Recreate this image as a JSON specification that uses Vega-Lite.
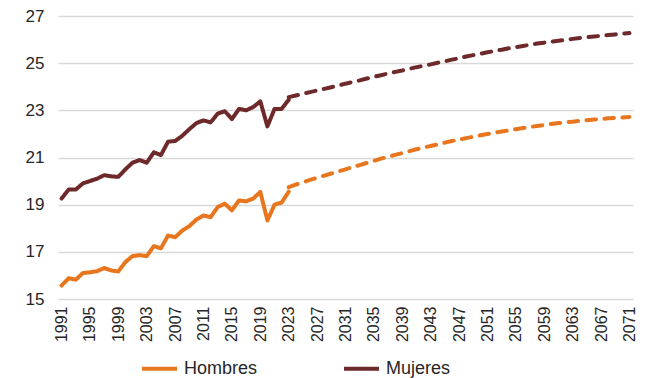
{
  "$schema": "https://vega.github.io/schema/vega-lite/v6.json",
  "width": 575,
  "height": 283,
  "autosize": {"type": "none"},
  "padding": {"left": 58, "top": 16, "right": 23, "bottom": 79},
  "background": "white",
  "config": {
    "view": {"stroke": null},
    "font": "Liberation Sans",
    "axis": {"labelFont": "Liberation Sans", "labelColor": "#262626"},
    "legend": {"labelFont": "Liberation Sans", "labelColor": "#262626"}
  },
  "data": {
    "values": [
      {"anio": 1991, "edad": 15.57, "sexo": "Hombres", "tipo": "Observado"},
      {"anio": 1992, "edad": 15.88, "sexo": "Hombres", "tipo": "Observado"},
      {"anio": 1993, "edad": 15.82, "sexo": "Hombres", "tipo": "Observado"},
      {"anio": 1994, "edad": 16.10, "sexo": "Hombres", "tipo": "Observado"},
      {"anio": 1995, "edad": 16.13, "sexo": "Hombres", "tipo": "Observado"},
      {"anio": 1996, "edad": 16.18, "sexo": "Hombres", "tipo": "Observado"},
      {"anio": 1997, "edad": 16.31, "sexo": "Hombres", "tipo": "Observado"},
      {"anio": 1998, "edad": 16.21, "sexo": "Hombres", "tipo": "Observado"},
      {"anio": 1999, "edad": 16.17, "sexo": "Hombres", "tipo": "Observado"},
      {"anio": 2000, "edad": 16.57, "sexo": "Hombres", "tipo": "Observado"},
      {"anio": 2001, "edad": 16.82, "sexo": "Hombres", "tipo": "Observado"},
      {"anio": 2002, "edad": 16.86, "sexo": "Hombres", "tipo": "Observado"},
      {"anio": 2003, "edad": 16.82, "sexo": "Hombres", "tipo": "Observado"},
      {"anio": 2004, "edad": 17.24, "sexo": "Hombres", "tipo": "Observado"},
      {"anio": 2005, "edad": 17.15, "sexo": "Hombres", "tipo": "Observado"},
      {"anio": 2006, "edad": 17.69, "sexo": "Hombres", "tipo": "Observado"},
      {"anio": 2007, "edad": 17.62, "sexo": "Hombres", "tipo": "Observado"},
      {"anio": 2008, "edad": 17.90, "sexo": "Hombres", "tipo": "Observado"},
      {"anio": 2009, "edad": 18.09, "sexo": "Hombres", "tipo": "Observado"},
      {"anio": 2010, "edad": 18.37, "sexo": "Hombres", "tipo": "Observado"},
      {"anio": 2011, "edad": 18.54, "sexo": "Hombres", "tipo": "Observado"},
      {"anio": 2012, "edad": 18.47, "sexo": "Hombres", "tipo": "Observado"},
      {"anio": 2013, "edad": 18.90, "sexo": "Hombres", "tipo": "Observado"},
      {"anio": 2014, "edad": 19.04, "sexo": "Hombres", "tipo": "Observado"},
      {"anio": 2015, "edad": 18.76, "sexo": "Hombres", "tipo": "Observado"},
      {"anio": 2016, "edad": 19.18, "sexo": "Hombres", "tipo": "Observado"},
      {"anio": 2017, "edad": 19.14, "sexo": "Hombres", "tipo": "Observado"},
      {"anio": 2018, "edad": 19.26, "sexo": "Hombres", "tipo": "Observado"},
      {"anio": 2019, "edad": 19.54, "sexo": "Hombres", "tipo": "Observado"},
      {"anio": 2020, "edad": 18.33, "sexo": "Hombres", "tipo": "Observado"},
      {"anio": 2021, "edad": 19.00, "sexo": "Hombres", "tipo": "Observado"},
      {"anio": 2022, "edad": 19.09, "sexo": "Hombres", "tipo": "Observado"},
      {"anio": 2023, "edad": 19.55, "sexo": "Hombres", "tipo": "Observado"},
      {"anio": 2023, "edad": 19.74, "sexo": "Hombres", "tipo": "Proyección"},
      {"anio": 2024, "edad": 19.85, "sexo": "Hombres", "tipo": "Proyección"},
      {"anio": 2025, "edad": 19.95, "sexo": "Hombres", "tipo": "Proyección"},
      {"anio": 2026, "edad": 20.05, "sexo": "Hombres", "tipo": "Proyección"},
      {"anio": 2027, "edad": 20.14, "sexo": "Hombres", "tipo": "Proyección"},
      {"anio": 2028, "edad": 20.23, "sexo": "Hombres", "tipo": "Proyección"},
      {"anio": 2029, "edad": 20.32, "sexo": "Hombres", "tipo": "Proyección"},
      {"anio": 2030, "edad": 20.41, "sexo": "Hombres", "tipo": "Proyección"},
      {"anio": 2031, "edad": 20.50, "sexo": "Hombres", "tipo": "Proyección"},
      {"anio": 2032, "edad": 20.59, "sexo": "Hombres", "tipo": "Proyección"},
      {"anio": 2033, "edad": 20.68, "sexo": "Hombres", "tipo": "Proyección"},
      {"anio": 2034, "edad": 20.77, "sexo": "Hombres", "tipo": "Proyección"},
      {"anio": 2035, "edad": 20.86, "sexo": "Hombres", "tipo": "Proyección"},
      {"anio": 2036, "edad": 20.95, "sexo": "Hombres", "tipo": "Proyección"},
      {"anio": 2037, "edad": 21.03, "sexo": "Hombres", "tipo": "Proyección"},
      {"anio": 2038, "edad": 21.11, "sexo": "Hombres", "tipo": "Proyección"},
      {"anio": 2039, "edad": 21.19, "sexo": "Hombres", "tipo": "Proyección"},
      {"anio": 2040, "edad": 21.27, "sexo": "Hombres", "tipo": "Proyección"},
      {"anio": 2041, "edad": 21.35, "sexo": "Hombres", "tipo": "Proyección"},
      {"anio": 2042, "edad": 21.42, "sexo": "Hombres", "tipo": "Proyección"},
      {"anio": 2043, "edad": 21.49, "sexo": "Hombres", "tipo": "Proyección"},
      {"anio": 2044, "edad": 21.56, "sexo": "Hombres", "tipo": "Proyección"},
      {"anio": 2045, "edad": 21.63, "sexo": "Hombres", "tipo": "Proyección"},
      {"anio": 2046, "edad": 21.70, "sexo": "Hombres", "tipo": "Proyección"},
      {"anio": 2047, "edad": 21.76, "sexo": "Hombres", "tipo": "Proyección"},
      {"anio": 2048, "edad": 21.82, "sexo": "Hombres", "tipo": "Proyección"},
      {"anio": 2049, "edad": 21.88, "sexo": "Hombres", "tipo": "Proyección"},
      {"anio": 2050, "edad": 21.94, "sexo": "Hombres", "tipo": "Proyección"},
      {"anio": 2051, "edad": 22.00, "sexo": "Hombres", "tipo": "Proyección"},
      {"anio": 2052, "edad": 22.05, "sexo": "Hombres", "tipo": "Proyección"},
      {"anio": 2053, "edad": 22.10, "sexo": "Hombres", "tipo": "Proyección"},
      {"anio": 2054, "edad": 22.15, "sexo": "Hombres", "tipo": "Proyección"},
      {"anio": 2055, "edad": 22.20, "sexo": "Hombres", "tipo": "Proyección"},
      {"anio": 2056, "edad": 22.25, "sexo": "Hombres", "tipo": "Proyección"},
      {"anio": 2057, "edad": 22.29, "sexo": "Hombres", "tipo": "Proyección"},
      {"anio": 2058, "edad": 22.34, "sexo": "Hombres", "tipo": "Proyección"},
      {"anio": 2059, "edad": 22.38, "sexo": "Hombres", "tipo": "Proyección"},
      {"anio": 2060, "edad": 22.42, "sexo": "Hombres", "tipo": "Proyección"},
      {"anio": 2061, "edad": 22.46, "sexo": "Hombres", "tipo": "Proyección"},
      {"anio": 2062, "edad": 22.49, "sexo": "Hombres", "tipo": "Proyección"},
      {"anio": 2063, "edad": 22.52, "sexo": "Hombres", "tipo": "Proyección"},
      {"anio": 2064, "edad": 22.55, "sexo": "Hombres", "tipo": "Proyección"},
      {"anio": 2065, "edad": 22.58, "sexo": "Hombres", "tipo": "Proyección"},
      {"anio": 2066, "edad": 22.61, "sexo": "Hombres", "tipo": "Proyección"},
      {"anio": 2067, "edad": 22.63, "sexo": "Hombres", "tipo": "Proyección"},
      {"anio": 2068, "edad": 22.66, "sexo": "Hombres", "tipo": "Proyección"},
      {"anio": 2069, "edad": 22.68, "sexo": "Hombres", "tipo": "Proyección"},
      {"anio": 2070, "edad": 22.70, "sexo": "Hombres", "tipo": "Proyección"},
      {"anio": 2071, "edad": 22.72, "sexo": "Hombres", "tipo": "Proyección"},
      {"anio": 1991, "edad": 19.26, "sexo": "Mujeres", "tipo": "Observado"},
      {"anio": 1992, "edad": 19.64, "sexo": "Mujeres", "tipo": "Observado"},
      {"anio": 1993, "edad": 19.64, "sexo": "Mujeres", "tipo": "Observado"},
      {"anio": 1994, "edad": 19.90, "sexo": "Mujeres", "tipo": "Observado"},
      {"anio": 1995, "edad": 20.00, "sexo": "Mujeres", "tipo": "Observado"},
      {"anio": 1996, "edad": 20.10, "sexo": "Mujeres", "tipo": "Observado"},
      {"anio": 1997, "edad": 20.25, "sexo": "Mujeres", "tipo": "Observado"},
      {"anio": 1998, "edad": 20.20, "sexo": "Mujeres", "tipo": "Observado"},
      {"anio": 1999, "edad": 20.18, "sexo": "Mujeres", "tipo": "Observado"},
      {"anio": 2000, "edad": 20.50, "sexo": "Mujeres", "tipo": "Observado"},
      {"anio": 2001, "edad": 20.78, "sexo": "Mujeres", "tipo": "Observado"},
      {"anio": 2002, "edad": 20.89, "sexo": "Mujeres", "tipo": "Observado"},
      {"anio": 2003, "edad": 20.78, "sexo": "Mujeres", "tipo": "Observado"},
      {"anio": 2004, "edad": 21.22, "sexo": "Mujeres", "tipo": "Observado"},
      {"anio": 2005, "edad": 21.10, "sexo": "Mujeres", "tipo": "Observado"},
      {"anio": 2006, "edad": 21.67, "sexo": "Mujeres", "tipo": "Observado"},
      {"anio": 2007, "edad": 21.70, "sexo": "Mujeres", "tipo": "Observado"},
      {"anio": 2008, "edad": 21.92, "sexo": "Mujeres", "tipo": "Observado"},
      {"anio": 2009, "edad": 22.20, "sexo": "Mujeres", "tipo": "Observado"},
      {"anio": 2010, "edad": 22.46, "sexo": "Mujeres", "tipo": "Observado"},
      {"anio": 2011, "edad": 22.57, "sexo": "Mujeres", "tipo": "Observado"},
      {"anio": 2012, "edad": 22.49, "sexo": "Mujeres", "tipo": "Observado"},
      {"anio": 2013, "edad": 22.86, "sexo": "Mujeres", "tipo": "Observado"},
      {"anio": 2014, "edad": 22.96, "sexo": "Mujeres", "tipo": "Observado"},
      {"anio": 2015, "edad": 22.63, "sexo": "Mujeres", "tipo": "Observado"},
      {"anio": 2016, "edad": 23.06, "sexo": "Mujeres", "tipo": "Observado"},
      {"anio": 2017, "edad": 23.00, "sexo": "Mujeres", "tipo": "Observado"},
      {"anio": 2018, "edad": 23.14, "sexo": "Mujeres", "tipo": "Observado"},
      {"anio": 2019, "edad": 23.38, "sexo": "Mujeres", "tipo": "Observado"},
      {"anio": 2020, "edad": 22.32, "sexo": "Mujeres", "tipo": "Observado"},
      {"anio": 2021, "edad": 23.06, "sexo": "Mujeres", "tipo": "Observado"},
      {"anio": 2022, "edad": 23.06, "sexo": "Mujeres", "tipo": "Observado"},
      {"anio": 2023, "edad": 23.45, "sexo": "Mujeres", "tipo": "Observado"},
      {"anio": 2023, "edad": 23.56, "sexo": "Mujeres", "tipo": "Proyección"},
      {"anio": 2024, "edad": 23.63, "sexo": "Mujeres", "tipo": "Proyección"},
      {"anio": 2025, "edad": 23.70, "sexo": "Mujeres", "tipo": "Proyección"},
      {"anio": 2026, "edad": 23.77, "sexo": "Mujeres", "tipo": "Proyección"},
      {"anio": 2027, "edad": 23.84, "sexo": "Mujeres", "tipo": "Proyección"},
      {"anio": 2028, "edad": 23.91, "sexo": "Mujeres", "tipo": "Proyección"},
      {"anio": 2029, "edad": 23.98, "sexo": "Mujeres", "tipo": "Proyección"},
      {"anio": 2030, "edad": 24.05, "sexo": "Mujeres", "tipo": "Proyección"},
      {"anio": 2031, "edad": 24.13, "sexo": "Mujeres", "tipo": "Proyección"},
      {"anio": 2032, "edad": 24.20, "sexo": "Mujeres", "tipo": "Proyección"},
      {"anio": 2033, "edad": 24.27, "sexo": "Mujeres", "tipo": "Proyección"},
      {"anio": 2034, "edad": 24.35, "sexo": "Mujeres", "tipo": "Proyección"},
      {"anio": 2035, "edad": 24.42, "sexo": "Mujeres", "tipo": "Proyección"},
      {"anio": 2036, "edad": 24.49, "sexo": "Mujeres", "tipo": "Proyección"},
      {"anio": 2037, "edad": 24.56, "sexo": "Mujeres", "tipo": "Proyección"},
      {"anio": 2038, "edad": 24.63, "sexo": "Mujeres", "tipo": "Proyección"},
      {"anio": 2039, "edad": 24.69, "sexo": "Mujeres", "tipo": "Proyección"},
      {"anio": 2040, "edad": 24.76, "sexo": "Mujeres", "tipo": "Proyección"},
      {"anio": 2041, "edad": 24.83, "sexo": "Mujeres", "tipo": "Proyección"},
      {"anio": 2042, "edad": 24.89, "sexo": "Mujeres", "tipo": "Proyección"},
      {"anio": 2043, "edad": 24.95, "sexo": "Mujeres", "tipo": "Proyección"},
      {"anio": 2044, "edad": 25.02, "sexo": "Mujeres", "tipo": "Proyección"},
      {"anio": 2045, "edad": 25.08, "sexo": "Mujeres", "tipo": "Proyección"},
      {"anio": 2046, "edad": 25.15, "sexo": "Mujeres", "tipo": "Proyección"},
      {"anio": 2047, "edad": 25.21, "sexo": "Mujeres", "tipo": "Proyección"},
      {"anio": 2048, "edad": 25.28, "sexo": "Mujeres", "tipo": "Proyección"},
      {"anio": 2049, "edad": 25.34, "sexo": "Mujeres", "tipo": "Proyección"},
      {"anio": 2050, "edad": 25.40, "sexo": "Mujeres", "tipo": "Proyección"},
      {"anio": 2051, "edad": 25.46, "sexo": "Mujeres", "tipo": "Proyección"},
      {"anio": 2052, "edad": 25.52, "sexo": "Mujeres", "tipo": "Proyección"},
      {"anio": 2053, "edad": 25.57, "sexo": "Mujeres", "tipo": "Proyección"},
      {"anio": 2054, "edad": 25.63, "sexo": "Mujeres", "tipo": "Proyección"},
      {"anio": 2055, "edad": 25.68, "sexo": "Mujeres", "tipo": "Proyección"},
      {"anio": 2056, "edad": 25.73, "sexo": "Mujeres", "tipo": "Proyección"},
      {"anio": 2057, "edad": 25.78, "sexo": "Mujeres", "tipo": "Proyección"},
      {"anio": 2058, "edad": 25.83, "sexo": "Mujeres", "tipo": "Proyección"},
      {"anio": 2059, "edad": 25.87, "sexo": "Mujeres", "tipo": "Proyección"},
      {"anio": 2060, "edad": 25.91, "sexo": "Mujeres", "tipo": "Proyección"},
      {"anio": 2061, "edad": 25.95, "sexo": "Mujeres", "tipo": "Proyección"},
      {"anio": 2062, "edad": 25.99, "sexo": "Mujeres", "tipo": "Proyección"},
      {"anio": 2063, "edad": 26.03, "sexo": "Mujeres", "tipo": "Proyección"},
      {"anio": 2064, "edad": 26.07, "sexo": "Mujeres", "tipo": "Proyección"},
      {"anio": 2065, "edad": 26.10, "sexo": "Mujeres", "tipo": "Proyección"},
      {"anio": 2066, "edad": 26.13, "sexo": "Mujeres", "tipo": "Proyección"},
      {"anio": 2067, "edad": 26.16, "sexo": "Mujeres", "tipo": "Proyección"},
      {"anio": 2068, "edad": 26.19, "sexo": "Mujeres", "tipo": "Proyección"},
      {"anio": 2069, "edad": 26.22, "sexo": "Mujeres", "tipo": "Proyección"},
      {"anio": 2070, "edad": 26.25, "sexo": "Mujeres", "tipo": "Proyección"},
      {"anio": 2071, "edad": 26.28, "sexo": "Mujeres", "tipo": "Proyección"}
    ]
  },
  "mark": {"type": "line", "strokeWidth": 4, "strokeCap": "round", "strokeJoin": "round"},
  "encoding": {
    "x": {
      "field": "anio",
      "type": "quantitative",
      "scale": {"domain": [1990.5, 2071.5], "nice": false, "zero": false},
      "axis": {
        "title": null,
        "values": [1991, 1995, 1999, 2003, 2007, 2011, 2015, 2019, 2023, 2027, 2031, 2035, 2039, 2043, 2047, 2051, 2055, 2059, 2063, 2067, 2071],
        "format": "d",
        "labelAngle": -90,
        "labelAlign": "right",
        "labelBaseline": "middle",
        "labelFontSize": 16,
        "labelPadding": 7,
        "ticks": false,
        "domain": false,
        "grid": false,
        "labelOverlap": false
      }
    },
    "y": {
      "field": "edad",
      "type": "quantitative",
      "scale": {"domain": [15, 27], "nice": false, "zero": false},
      "axis": {
        "title": null,
        "values": [15, 17, 19, 21, 23, 25, 27],
        "labelFontSize": 17,
        "labelPadding": 14,
        "ticks": false,
        "domain": false,
        "grid": true,
        "gridColor": "#d9d9d9",
        "gridWidth": 1.5
      }
    },
    "color": {
      "field": "sexo",
      "type": "nominal",
      "scale": {"domain": ["Hombres", "Mujeres"], "range": ["#E8761E", "#6E2A2B"]},
      "legend": {
        "title": null,
        "orient": "none",
        "legendX": 82,
        "legendY": 333,
        "direction": "horizontal",
        "symbolType": "stroke",
        "symbolSize": 1225,
        "symbolStrokeWidth": 4,
        "labelFontSize": 18,
        "labelOffset": 5,
        "columnPadding": 78
      }
    },
    "strokeDash": {
      "field": "tipo",
      "type": "nominal",
      "scale": {"domain": ["Observado", "Proyección"], "range": [[1, 0], [9.5, 8.5]]},
      "legend": null
    }
  }
}
